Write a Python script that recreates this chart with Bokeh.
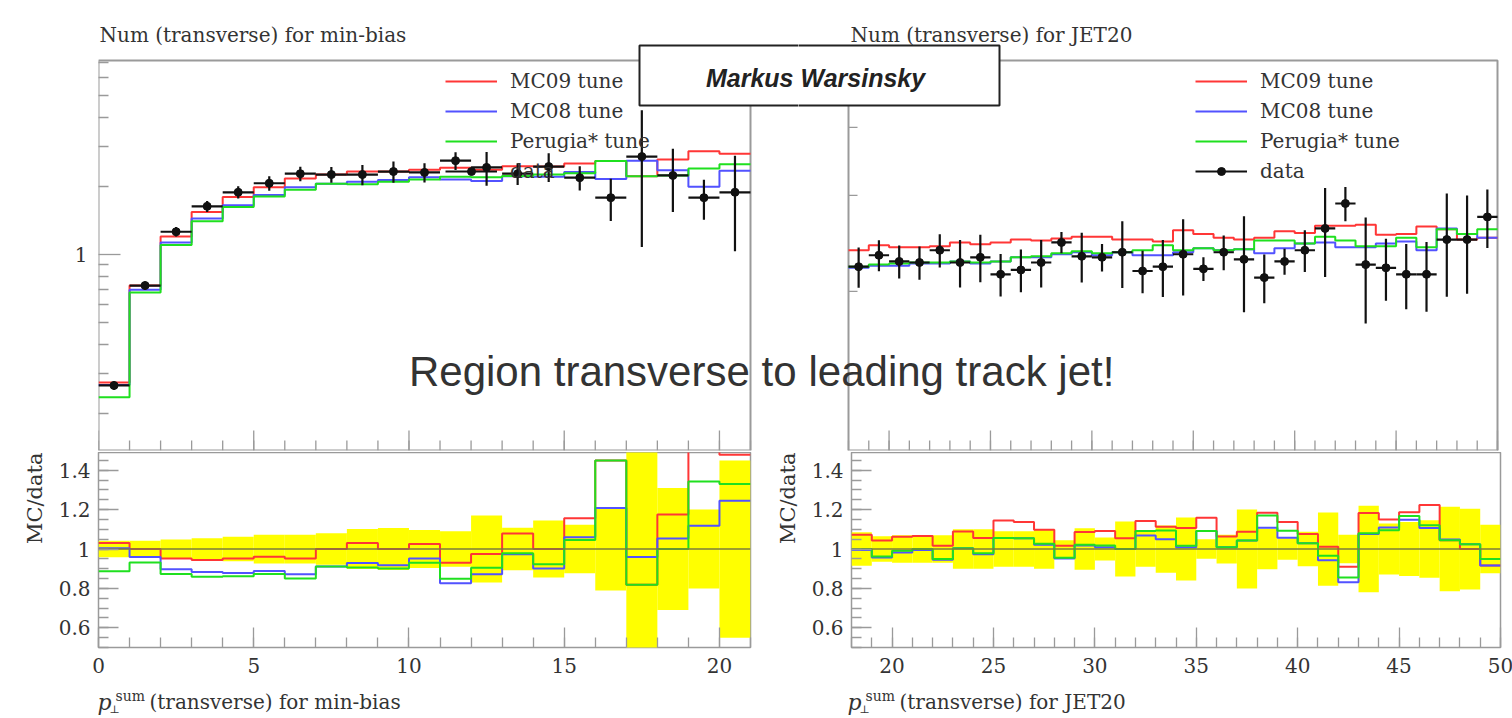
import numpy as np
from bokeh.plotting import figure
from bokeh.models import (ColumnDataSource, FixedTicker, LinearAxis, LogAxis, Label, Title,
                          BoxAnnotation, Span, Legend, LegendItem)
from bokeh.layouts import column, row
from bokeh.embed import file_html
from bokeh.resources import INLINE

# ---------------- data: min-bias ----------------
mb_edges = list(range(0, 22))
mb_data = [0.265, 0.73, 1.26, 1.63, 1.88, 2.06, 2.27, 2.25, 2.25, 2.32, 2.30,
           2.59, 2.42, 2.27, 2.44, 2.18, 1.78, 2.70, 2.23, 1.78, 1.88]
mb_err = [0.042, 0.042, 0.048, 0.055, 0.062, 0.073, 0.073, 0.080, 0.102, 0.107, 0.097,
          0.090, 0.170, 0.108, 0.145, 0.123, 0.210, 0.600, 0.310, 0.200, 0.450]
mb_mc09 = [0.273, 0.73, 1.20, 1.54, 1.79, 1.98, 2.16, 2.25, 2.32, 2.32, 2.36,
           2.41, 2.36, 2.45, 2.44, 2.52, 2.58, 2.21, 2.62, 2.85, 2.78]
mb_mc08 = [0.266, 0.70, 1.13, 1.44, 1.65, 1.83, 1.98, 2.05, 2.09, 2.13, 2.19,
           2.14, 2.11, 2.21, 2.20, 2.31, 2.15, 2.59, 2.35, 1.99, 2.34]
mb_perugia = [0.235, 0.68, 1.10, 1.40, 1.62, 1.80, 1.93, 2.05, 2.04, 2.09, 2.14,
              2.20, 2.19, 2.22, 2.25, 2.28, 2.58, 2.21, 2.23, 2.39, 2.50]

# ---------------- data: JET20 ----------------
jet_edges = list(range(18, 51))
jet_data = [2.22, 2.33, 2.27, 2.26, 2.38, 2.26, 2.31, 2.15, 2.19, 2.26, 2.46,
            2.32, 2.31, 2.36, 2.18, 2.22, 2.34, 2.20, 2.36, 2.29, 2.12, 2.27,
            2.38, 2.61, 2.90, 2.24, 2.21, 2.15, 2.15, 2.49, 2.49, 2.74]
jet_err = [0.085, 0.065, 0.070, 0.070, 0.070, 0.100, 0.100, 0.090, 0.090, 0.100, 0.045,
           0.105, 0.058, 0.140, 0.090, 0.120, 0.160, 0.050, 0.073, 0.200, 0.103, 0.055,
           0.088, 0.186, 0.072, 0.220, 0.130, 0.137, 0.146, 0.215, 0.205, 0.123]
jet_mc09 = [2.38, 2.43, 2.41, 2.41, 2.42, 2.46, 2.44, 2.46, 2.49, 2.48, 2.50,
            2.52, 2.52, 2.49, 2.49, 2.47, 2.59, 2.55, 2.51, 2.49, 2.51, 2.58,
            2.56, 2.64, 2.64, 2.65, 2.54, 2.55, 2.63, 2.60, 2.49, 2.51]
jet_mc08 = [2.21, 2.23, 2.23, 2.25, 2.25, 2.27, 2.25, 2.27, 2.31, 2.31, 2.34,
            2.36, 2.33, 2.36, 2.33, 2.33, 2.36, 2.40, 2.38, 2.39, 2.35, 2.40,
            2.45, 2.46, 2.41, 2.41, 2.45, 2.47, 2.38, 2.61, 2.55, 2.51]
jet_perugia = [2.22, 2.24, 2.25, 2.26, 2.26, 2.27, 2.26, 2.27, 2.31, 2.32, 2.35,
               2.37, 2.35, 2.36, 2.38, 2.43, 2.38, 2.40, 2.38, 2.39, 2.48, 2.48,
               2.45, 2.52, 2.48, 2.42, 2.42, 2.51, 2.41, 2.60, 2.55, 2.60]

tune_names = ["MC09 tune", "MC08 tune", "Perugia* tune"]
tune_colors = ["#ff3636", "#5252ff", "#1fe01f"]

# panel ranges (axis limits)
mb_yr = (0.137, 7.155)
jet_yr = (1.021, 5.307)
ratio_yr = (0.5, 1.49)
mb_y_major = [1]
mb_y_minor = [0.2, 0.3, 0.4, 0.5, 0.6, 0.7, 0.8, 0.9, 2, 3, 4, 5, 6, 7]
jet_y_minor = [2, 3, 4, 5]
mb_x_major = [0, 5, 10, 15, 20]
jet_x_major = [20, 25, 30, 35, 40, 45, 50]
ratio_major = [0.6, 0.8, 1.0, 1.2, 1.4]
ratio_labels = ["0.6", "0.8", "1", "1.2", "1.4"]
ratio_minor = [round(0.5 + 0.05 * i, 2) for i in range(20)]

# ---------------- style / geometry (screen pixels) ----------------
SERIF = "DejaVu Serif"
SANS = "Liberation Sans"
TXT = "#333333"
AX = "#9a9a9a"
W, H = 1512, 718
FT_T, FT_B = 60, 450       # top panels
RF_T, RF_B = 452, 647      # ratio panels
STRIP_T = 686
L_PX = (98, 750)
R_PX = (848, 1497)
TOP_SPLIT = 798
BOT_SPLIT = 764


def put(p, frame, px, py, text, **kw):
    fl, fb = frame
    opts = dict(text_font=SERIF, text_font_size="20px", text_color=TXT,
                text_baseline="middle", text_align="left")
    opts.update(kw)
    p.add_layout(Label(x=px - fl, y=fb - py, x_units="screen", y_units="screen",
                       text=text, **opts))


def style_axis(a, major_in, minor_in):
    a.axis_line_color = None
    a.major_tick_in = major_in
    a.major_tick_out = 0
    a.minor_tick_in = minor_in
    a.minor_tick_out = 0
    a.major_tick_line_color = AX
    a.minor_tick_line_color = AX
    a.major_tick_line_width = 1.3
    a.minor_tick_line_width = 1.3
    a.major_label_text_font = SERIF
    a.major_label_text_font_size = "20px"
    a.major_label_text_color = TXT


def top_panel(edges, data, err, mcs, yr, x_major, panel_x, frame_x0, frame_x1):
    """Top panel; the frame is widened so that slide overlays can be drawn in it."""
    pl, pr = panel_x
    ppu = (pr - pl) / (edges[-1] - edges[0])
    xr = (edges[0] - (pl - frame_x0) / ppu, edges[-1] + (frame_x1 - pr) / ppu)
    ly0, ly1 = np.log10(yr[0]), np.log10(yr[1])
    ppd = (FT_B - FT_T) / (ly1 - ly0)
    y_top = 10 ** (ly1 + FT_T / ppd)
    p = figure(frame_width=frame_x1 - frame_x0, frame_height=FT_B,
               x_range=xr, y_range=(yr[0], y_top), y_axis_type="log",
               x_axis_location=None, y_axis_location=None,
               min_border_left=0, min_border_right=0,
               min_border_top=0, min_border_bottom=RF_T - FT_B,
               output_backend="svg", toolbar_location=None)
    p.outline_line_color = None
    p.background_fill_color = "white"
    p.border_fill_color = "white"
    for g in p.grid:
        g.visible = False
    # panel box
    p.quad(left=edges[0], right=edges[-1], bottom=yr[0], top=yr[1],
           fill_color=None, line_color=AX, line_width=2)
    # bottom ticks (pointing up)
    p.ray(x=x_major, y=[yr[0]] * len(x_major), length=20, length_units="screen",
          angle=np.pi / 2, line_color=AX, line_width=1.3)
    p.ray(x=edges, y=[yr[0]] * len(edges), length=10, length_units="screen",
          angle=np.pi / 2, line_color=AX, line_width=1.3)

    e = np.array(edges, dtype=float)
    rends = []
    for vals, col in zip(mcs, tune_colors):
        y = list(vals) + [vals[-1]]
        rends.append(p.step(x=e, y=y, mode="after", line_color=col, line_width=2))
    d = np.array(data)
    er = np.array(err)
    src = ColumnDataSource(dict(xc=(e[:-1] + e[1:]) / 2, xl=e[:-1], xr=e[1:], y=d,
                                lo=d * (1 - er), hi=d * (1 + er)))
    p.segment(x0="xc", x1="xc", y0="lo", y1="hi", source=src,
              line_color="#111111", line_width=2.2)
    rh = p.segment(x0="xl", x1="xr", y0="y", y1="y", source=src,
                   line_color="#111111", line_width=2.2)
    rm = p.scatter(x="xc", y="y", source=src, size=8, fill_color="#111111",
                   line_color="#111111")

    items = [LegendItem(label=n, renderers=[r]) for n, r in zip(tune_names, rends)]
    items.append(LegendItem(label="data", renderers=[rh, rm]))
    leg = Legend(items=items, location=(pl + 347 - frame_x0, FT_B - 183),
                 glyph_width=52, glyph_height=20, label_height=20, label_standoff=13,
                 spacing=6, padding=0, margin=0, border_line_color=None,
                 background_fill_alpha=0, label_text_font=SERIF,
                 label_text_font_size="20px", label_text_color=TXT, level="underlay")
    p.add_layout(leg)
    return p


def ratio_panel(edges, data, err, mcs, x_major, panel_x, canvas_x):
    pl, pr = panel_x
    cl, cr = canvas_x
    p = figure(frame_width=pr - pl, frame_height=RF_B - RF_T,
               x_range=(edges[0], edges[-1]), y_range=ratio_yr,
               x_axis_location=None, y_axis_location=None,
               min_border_left=pl - cl, min_border_right=cr - pr,
               min_border_top=0, min_border_bottom=STRIP_T - RF_B,
               output_backend="svg", toolbar_location=None)
    p.outline_line_color = AX
    p.outline_line_width = 1.5
    p.background_fill_color = "white"
    p.border_fill_color = "white"
    for g in p.grid:
        g.visible = False
    e = np.array(edges, dtype=float)
    er = np.array(err)
    d = np.array(data)
    p.quad(left=e[:-1], right=e[1:], bottom=1 - er, top=1 + er,
           fill_color="#ffff00", line_color=None)
    p.add_layout(Span(location=1, dimension="width", line_color="#7d7d3c",
                      line_width=1.5, level="glyph"))
    for vals, col in zip(mcs, tune_colors):
        r = np.array(vals) / d
        y = list(r) + [r[-1]]
        p.step(x=e, y=y, mode="after", line_color=col, line_width=2)
    ya = LinearAxis(ticker=FixedTicker(ticks=ratio_major, minor_ticks=ratio_minor),
                    major_label_overrides=dict(zip(ratio_major, ratio_labels)),
                    major_label_standoff=8)
    style_axis(ya, 20, 10)
    p.add_layout(ya, "left")
    xa = LinearAxis(ticker=FixedTicker(ticks=x_major, minor_ticks=edges),
                    major_label_standoff=10)
    style_axis(xa, 20, 10)
    p.add_layout(xa, "below")
    p.add_layout(Title(text="MC/data", align="right", text_font=SERIF,
                       text_font_size="21px", text_font_style="normal",
                       text_color=TXT, standoff=18), "left")
    return p


# ---------------- top row ----------------
tl = top_panel(mb_edges, mb_data, mb_err, [mb_mc09, mb_mc08, mb_perugia], mb_yr,
               mb_x_major, L_PX, L_PX[0], TOP_SPLIT)
# real log axis on the left of the min-bias panel
ya = LogAxis(ticker=FixedTicker(ticks=mb_y_major, minor_ticks=mb_y_minor),
             major_label_overrides={1: "1"}, major_label_standoff=11)
style_axis(ya, 22, 10)
tl.add_layout(ya, "left")
tl.min_border_left = L_PX[0]

tr = top_panel(jet_edges, jet_data, jet_err, [jet_mc09, jet_mc08, jet_perugia], jet_yr,
               jet_x_major, R_PX, TOP_SPLIT, W)
tr.ray(x=[jet_edges[0]] * len(jet_y_minor), y=jet_y_minor, length=9, length_units="screen",
       angle=0, line_color=AX, line_width=1.3)

TLF = (L_PX[0], FT_B)
TRF = (TOP_SPLIT, FT_B)
put(tl, TLF, TOP_SPLIT - 2, 371, "Region transverse to", text_font=SANS,
    text_font_size="42px", text_align="right", level="overlay")
put(tr, TRF, TOP_SPLIT + 10, 371, "leading track jet!", text_font=SANS,
    text_font_size="42px", text_align="left", level="overlay")

for p, fr in ((tl, TLF), (tr, TRF)):
    fl, fb = fr
    p.add_layout(BoxAnnotation(left=639 - fl, right=999 - fl, top=fb - 45, bottom=fb - 105,
                               left_units="screen", right_units="screen",
                               top_units="screen", bottom_units="screen",
                               fill_color="white", fill_alpha=1.0,
                               line_color="#222222", line_alpha=1.0, line_width=2,
                               level="overlay"))
put(tl, TLF, TOP_SPLIT - 5, 77, "Markus", text_font=SANS, text_font_size="25px",
    text_font_style="bold italic", text_color="#222222", text_align="right", level="overlay")
put(tr, TRF, TOP_SPLIT + 2, 77, "Warsinsky", text_font=SANS, text_font_size="25px",
    text_font_style="bold italic", text_color="#222222", text_align="left", level="overlay")
put(tl, TLF, 99, 34, "Num (transverse) for min-bias", level="overlay")
put(tr, TRF, 850, 34, "Num (transverse) for JET20", level="overlay")

# ---------------- ratio row ----------------
bl = ratio_panel(mb_edges, mb_data, mb_err, [mb_mc09, mb_mc08, mb_perugia], mb_x_major,
                 L_PX, (0, BOT_SPLIT))
br = ratio_panel(jet_edges, jet_data, jet_err, [jet_mc09, jet_mc08, jet_perugia], jet_x_major,
                 R_PX, (BOT_SPLIT, W))

# ---------------- x-axis titles strip ----------------
st = figure(width=W, height=H - STRIP_T, x_range=(0, W), y_range=(H, STRIP_T),
            min_border=0, x_axis_location=None, y_axis_location=None,
            output_backend="svg", toolbar_location=None)
st.outline_line_color = None
st.background_fill_color = "white"
st.border_fill_color = "white"
for g in st.grid:
    g.visible = False
for x0, xlab in ((L_PX[0], "(transverse) for min-bias"), (R_PX[0], "(transverse) for JET20")):
    for dx, dy, txt, kw in ((-1, 702, "p", dict(text_font_style="italic", text_font_size="22px")),
                            (17, 695, "sum", dict(text_font_size="14px")),
                            (11, 709, "\u22a5", dict(text_font_size="11px")),
                            (51, 701, xlab, {})):
        opts = dict(text_font=SERIF, text_font_size="20px", text_color=TXT,
                    text_baseline="middle", text_align="left")
        opts.update(kw)
        st.add_layout(Label(x=x0 + dx, y=dy, text=txt, **opts))

layout = column(row(tl, tr), row(bl, br), st)
open("out.html", "w").write(file_html(layout, INLINE))
